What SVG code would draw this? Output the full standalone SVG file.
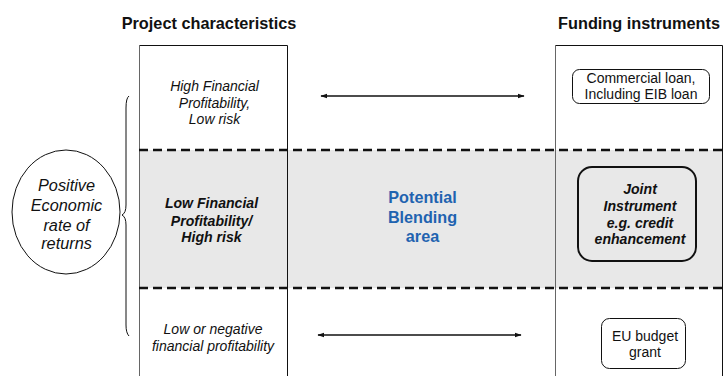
<svg xmlns="http://www.w3.org/2000/svg" width="723" height="376" viewBox="0 0 723 376">
<style>
text{font-family:"Liberation Sans",Arial,sans-serif;text-anchor:middle;fill:#111}
.t{font-size:16.3px;font-weight:bold}
.i{font-size:14px;font-style:italic}
.bi{font-size:14.1px;font-style:italic;font-weight:bold}
.n{font-size:14px}
.e{font-size:16.3px;font-style:italic}
.b{font-size:16.2px;font-weight:bold;fill:#1f63b0}
.col{fill:none;stroke:#111;stroke-width:1}
.dash{stroke:#111;stroke-width:2.5;stroke-dasharray:9,5;fill:none}
.arr{stroke:#111;stroke-width:1.3;fill:none;marker-start:url(#a);marker-end:url(#a)}
</style>
<defs>
<marker id="a" viewBox="0 0 10 10" refX="9" refY="5" markerWidth="7" markerHeight="7" orient="auto-start-reverse" markerUnits="userSpaceOnUse">
<path d="M0,1.5 L10,5 L0,8.5 Z" fill="#111"/>
</marker>
</defs>
<rect x="139" y="150" width="584" height="138" fill="#e8e8e8"/>
<g id="project-column">
<text class="t" x="209" y="29">Project characteristics</text>
<path class="col" d="M287.5,376 V45.5 H139.5"/>
<line x1="139.5" y1="45" x2="139.5" y2="376" stroke="#666" stroke-width="1"/>
</g>
<g id="funding-column">
<text class="t" x="639" y="29">Funding instruments</text>
<path class="col" d="M555.5,45.5 H722.5 V376"/>
<line x1="555.5" y1="45" x2="555.5" y2="376" stroke="#666" stroke-width="1"/>
</g>
<g id="band">
<line class="dash" x1="139" y1="150" x2="723" y2="150"/>
<line class="dash" x1="139" y1="288" x2="723" y2="288"/>
</g>
<g id="high">
<text class="i" x="214.5" y="91">High Financial</text>
<text class="i" x="214.5" y="108">Profitability,</text>
<text class="i" x="214.5" y="124">Low risk</text>
</g>
<g id="low">
<text class="bi" x="211.5" y="208">Low Financial</text>
<text class="bi" x="211.5" y="226">Profitability/</text>
<text class="bi" x="211.5" y="242">High risk</text>
</g>
<g id="negative">
<text class="i" x="213" y="334">Low or negative</text>
<text class="i" x="213" y="351">financial profitability</text>
</g>
<g id="blending">
<text class="b" x="422.5" y="203">Potential</text>
<text class="b" x="422.5" y="223">Blending</text>
<text class="b" x="422.5" y="242">area</text>
</g>
<g id="ellipse">
<ellipse cx="66" cy="212" rx="54" ry="62" fill="#fff" stroke="#111" stroke-width="1"/>
<text class="e" x="66.5" y="191">Positive</text>
<text class="e" x="66.5" y="211">Economic</text>
<text class="e" x="66.5" y="231">rate of</text>
<text class="e" x="66.5" y="249">returns</text>
</g>
<g id="brace">
<path d="M129,96 Q126,98 126,108 V205 Q126,213 122,215 Q126,217 126,225 V325 Q126,333 129,336" fill="none" stroke="#111" stroke-width="1"/>
</g>
<g id="commercial">
<rect x="572.5" y="69.5" width="137" height="34" rx="7" fill="#fff" stroke="#111" stroke-width="1"/>
<text class="n" x="641" y="83">Commercial loan,</text>
<text class="n" x="641" y="99">Including EIB loan</text>
</g>
<g id="joint">
<rect x="578" y="167" width="118" height="94" rx="14" fill="#e8e8e8" stroke="#111" stroke-width="2"/>
<text class="bi" x="640" y="194">Joint</text>
<text class="bi" x="640" y="211">Instrument</text>
<text class="bi" x="640" y="228">e.g. credit</text>
<text class="bi" x="640" y="244">enhancement</text>
</g>
<g id="eu">
<rect x="601.5" y="318.5" width="84" height="50" rx="8" fill="#fff" stroke="#111" stroke-width="1"/>
<text class="n" x="645" y="341">EU budget</text>
<text class="n" x="645" y="357">grant</text>
</g>
<g id="connectors">
<line class="arr" x1="321" y1="96" x2="524" y2="96"/>
<line class="arr" x1="318" y1="335" x2="521" y2="335"/>
</g>
</svg>
